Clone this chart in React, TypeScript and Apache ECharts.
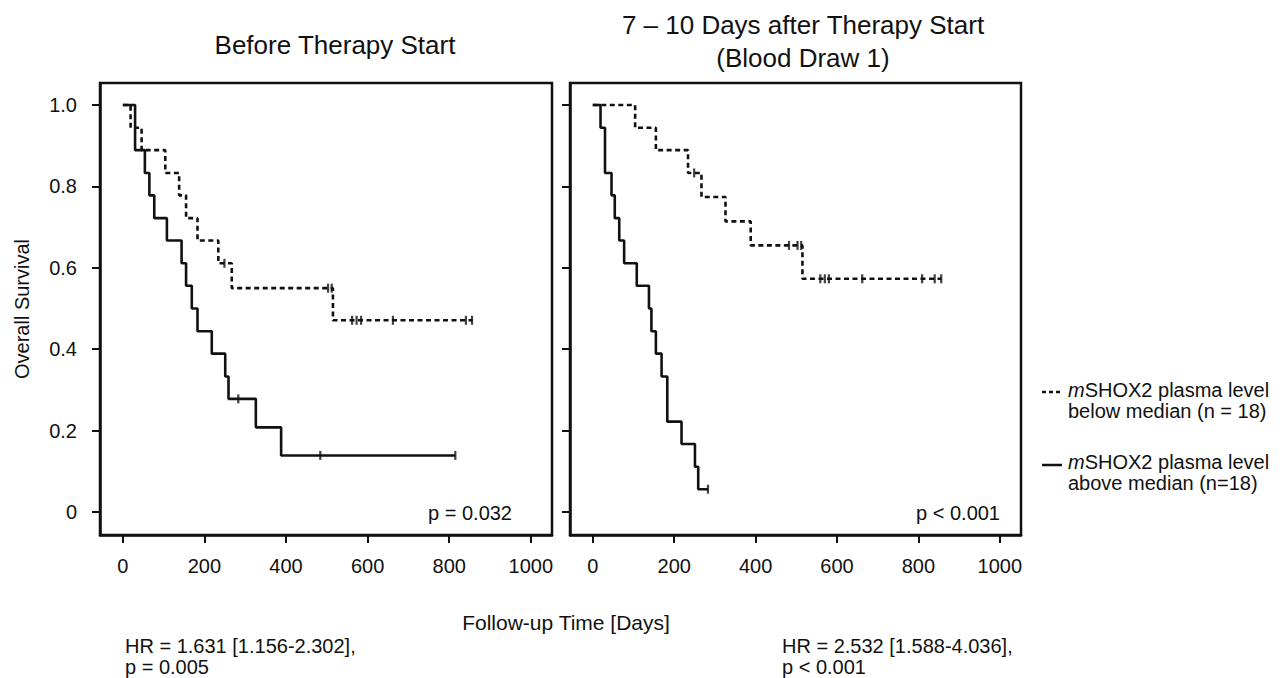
import React, { useEffect, useRef } from "react";
import * as echarts from "echarts";

// ---- data (days, survival) ----
const xTicks = [0, 200, 400, 600, 800, 1000];
const yTicks = [0, 0.2, 0.4, 0.6, 0.8, 1.0];

// Left panel: before therapy start
const leftBelowT = [0, 19, 46, 104, 138, 155, 183, 234, 267, 515, 857];
const leftBelowS = [1, 0.944, 0.889, 0.833, 0.778, 0.722, 0.667, 0.611, 0.55, 0.471, 0.471];
const leftBelowCensT = [249, 503, 512, 562, 573, 584, 662, 841, 856];
const leftBelowCensS = [0.611, 0.55, 0.55, 0.471, 0.471, 0.471, 0.471, 0.471, 0.471];

const leftAboveT = [0, 30, 54, 65, 77, 108, 144, 155, 169, 183, 218, 251, 259, 326, 388, 815];
const leftAboveS = [1, 0.889, 0.833, 0.778, 0.722, 0.667, 0.611, 0.556, 0.5, 0.444, 0.389, 0.333, 0.278, 0.208, 0.139, 0.139];
const leftAboveCensT = [283, 484, 815];
const leftAboveCensS = [0.278, 0.139, 0.139];

// Right panel: 7-10 days after therapy start
const rightBelowT = [0, 104, 155, 234, 267, 326, 388, 515, 856];
const rightBelowS = [1, 0.944, 0.889, 0.833, 0.774, 0.714, 0.655, 0.573, 0.573];
const rightBelowCensT = [249, 482, 503, 512, 559, 570, 580, 662, 809, 840, 856];
const rightBelowCensS = [0.833, 0.655, 0.655, 0.655, 0.573, 0.573, 0.573, 0.573, 0.573, 0.573, 0.573];

const rightAboveT = [0, 19, 30, 46, 54, 65, 77, 108, 138, 144, 155, 169, 183, 218, 251, 259, 283];
const rightAboveS = [1, 0.944, 0.833, 0.778, 0.722, 0.667, 0.611, 0.556, 0.5, 0.444, 0.389, 0.333, 0.222, 0.167, 0.111, 0.056, 0.056];
const rightAboveCensT = [283];
const rightAboveCensS = [0.056];

const FONT = '"Liberation Sans", Arial, sans-serif';
const INK = "#111";

const zip = (a: number[], b: number[]) => a.map((v, i) => [v, b[i]]);

export default function App() {
  const ref = useRef<HTMLDivElement>(null);
  useEffect(() => {
    if (!ref.current) return;
    const chart = echarts.init(ref.current, null, { renderer: "svg" });

    const grids = [
      { left: 100, top: 83, width: 452, height: 452 },
      { left: 570, top: 83, width: 451, height: 452 },
    ].map((g) => ({ ...g, show: true, borderColor: INK, borderWidth: 2.5, backgroundColor: "transparent" }));

    const xAxis = [0, 1].map((i) => ({
      gridIndex: i,
      type: "value",
      min: -56,
      max: 1052,
      axisLine: { show: true, onZero: false, lineStyle: { color: INK, width: 2.5 } },
      splitLine: { show: false },
      axisTick: { show: true, length: 8, lineStyle: { color: INK, width: 2 }, customValues: xTicks },
      axisLabel: {
        show: true,
        customValues: xTicks,
        fontSize: 20,
        fontFamily: FONT,
        color: INK,
        margin: 21,
        formatter: (v: number) => String(v),
      },
    }));
    const yAxis = [0, 1].map((i) => ({
      gridIndex: i,
      type: "value",
      min: -0.0565,
      max: 1.054,
      axisLine: { show: true, onZero: false, lineStyle: { color: INK, width: 2.5 } },
      splitLine: { show: false },
      axisTick: { show: true, length: 8, lineStyle: { color: INK, width: 2 }, customValues: yTicks },
      axisLabel: {
        show: i === 0,
        customValues: yTicks,
        fontSize: 20,
        fontFamily: FONT,
        color: INK,
        margin: 23,
        formatter: (v: number) => (v === 0 ? "0" : v.toFixed(1)),
      },
    }));

    const stepLine = (idx: number, t: number[], s: number[], dashed: boolean) => ({
      type: "line",
      xAxisIndex: idx,
      yAxisIndex: idx,
      step: "end",
      data: zip(t, s),
      showSymbol: false,
      symbol: "none",
      lineStyle: { color: INK, width: 2.6, type: dashed ? [5, 3.5] : "solid" },
      z: 3,
    });
    const cens = (idx: number, t: number[], s: number[]) => ({
      type: "scatter",
      xAxisIndex: idx,
      yAxisIndex: idx,
      data: zip(t, s),
      symbol: "rect",
      symbolSize: [2.2, 9],
      itemStyle: { color: INK },
      z: 4,
    });

    const txt = (x: number, y: number, text: string, size: number, align = "left", extra: any = {}) => ({
      type: "text",
      x,
      y,
      ...extra,
      style: { text, fontSize: size, fontFamily: FONT, fill: INK, align, verticalAlign: "middle", ...(extra.style || {}) },
    });

    const rich = { i: { fontStyle: "italic", fontSize: 20, fontFamily: FONT, color: INK } };

    chart.setOption({
      animation: false,
      backgroundColor: "#fff",
      grid: grids,
      xAxis,
      yAxis,
      series: [
        stepLine(0, leftBelowT, leftBelowS, true),
        stepLine(0, leftAboveT, leftAboveS, false),
        cens(0, leftBelowCensT, leftBelowCensS),
        cens(0, leftAboveCensT, leftAboveCensS),
        stepLine(1, rightBelowT, rightBelowS, true),
        stepLine(1, rightAboveT, rightAboveS, false),
        cens(1, rightBelowCensT, rightBelowCensS),
        cens(1, rightAboveCensT, rightAboveCensS),
      ],
      graphic: [
        txt(335, 45, "Before Therapy Start", 26, "center"),
        txt(803, 25, "7 \u2013 10 Days after Therapy Start", 26, "center"),
        txt(803, 58, "(Blood Draw 1)", 26, "center"),
        txt(22, 309, "Overall Survival", 20, "center", { rotation: Math.PI / 2 }),
        txt(512, 513, "p = 0.032", 20, "right"),
        txt(1000, 513, "p < 0.001", 20, "right"),
        txt(566, 622, "Follow-up Time [Days]", 21, "center"),
        txt(125, 646, "HR = 1.631 [1.156-2.302],", 20, "left"),
        txt(125, 667, "p = 0.005", 20, "left"),
        txt(782, 646, "HR = 2.532 [1.588-4.036],", 20, "left"),
        txt(782, 667, "p < 0.001", 20, "left"),
        {
          type: "line",
          shape: { x1: 1042, y1: 392, x2: 1062, y2: 392 },
          style: { stroke: INK, lineWidth: 2.5, lineDash: [4, 3] },
        },
        { type: "text", x: 1068, y: 390, style: { text: "{i|m}SHOX2 plasma level", rich, fontSize: 20, fontFamily: FONT, fill: INK, verticalAlign: "middle" } },
        txt(1068, 411, "below median (n = 18)", 20, "left"),
        {
          type: "line",
          shape: { x1: 1042, y1: 465, x2: 1062, y2: 465 },
          style: { stroke: INK, lineWidth: 2.5 },
        },
        { type: "text", x: 1068, y: 462, style: { text: "{i|m}SHOX2 plasma level", rich, fontSize: 20, fontFamily: FONT, fill: INK, verticalAlign: "middle" } },
        txt(1068, 483, "above median (n=18)", 20, "left"),
      ],
    });
    return () => chart.dispose();
  }, []);
  return <div ref={ref} style={{ position: "fixed", left: 0, top: 0, width: 1288, height: 678, background: "#fff" }} />;
}
